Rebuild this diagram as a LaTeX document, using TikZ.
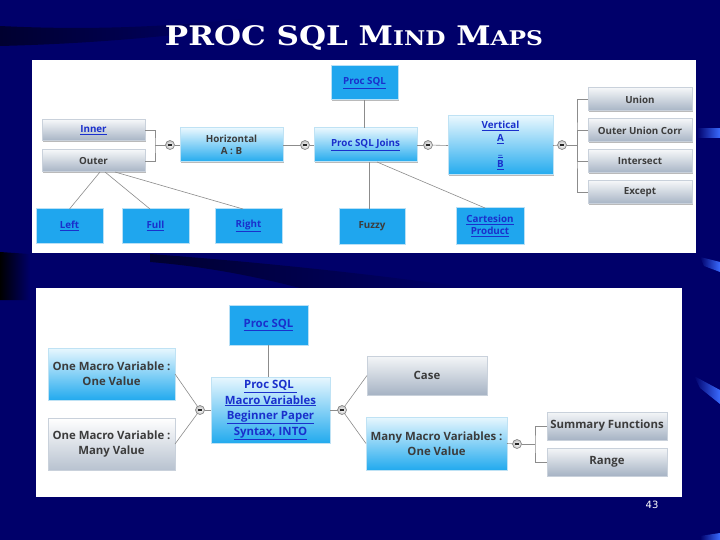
\documentclass[tikz,border=0pt]{standalone}
\usepackage{fontspec}
\usepackage{graphicx}
\usetikzlibrary{shadows,calc}
\newfontfamily\mapfont{Open Sans}
\newfontfamily\titlefont{DejaVu Serif}
\newfontfamily\numfont{DejaVu Sans}
\definecolor{navy}{HTML}{00006A}
\definecolor{navydark}{HTML}{000030}
\definecolor{streak}{HTML}{3A6BFF}
\definecolor{linkblue}{HTML}{1A30CC}
\definecolor{dtext}{HTML}{3C3C3C}
\definecolor{solblue}{HTML}{1FA6EE}
\definecolor{solborder}{HTML}{B8E0F6}
\definecolor{gbtop}{HTML}{E8F7FE}
\definecolor{gbbot}{HTML}{22AAEE}
\definecolor{gbborder}{HTML}{BFE2F4}
\definecolor{grtop}{HTML}{F4F6F8}
\definecolor{grbot}{HTML}{A6B3C4}
\definecolor{grborder}{HTML}{C9D1DB}
\definecolor{connector}{HTML}{8C8C8C}
\newcommand\mylink[1]{\textcolor{linkblue}{\underline{#1}}}
\tikzset{
  mbox/.style={rectangle, inner sep=1pt, outer sep=0pt, line width=1pt, align=center,
    text=dtext, font=\mapfont\bfseries\fontsize{9.8}{11.5}\selectfont,
    drop shadow={shadow xshift=1.2pt, shadow yshift=-1.2pt, fill=black!45, opacity=.6}},
  bigtext/.style={font=\mapfont\bfseries\fontsize{11.4}{15}\selectfont},
  sblue/.style={mbox, fill=solblue, draw=solborder},
  gblue/.style={mbox, top color=gbtop, bottom color=gbbot, draw=gbborder},
  grbox/.style={mbox, top color=grtop, bottom color=grbot, draw=grborder},
  mc/.style={circle, minimum size=9pt, inner sep=0pt, outer sep=0pt, draw=black!55, line width=0.5pt,
    inner color=white, outer color=black!25,
    path picture={\draw[line width=1.3pt, black!85] ([xshift=-2pt]path picture bounding box.center) -- ([xshift=2pt]path picture bounding box.center);}},
  conn/.style={draw=connector, line width=0.6pt},
  panel/.style={fill=white}
}
\begin{document}
\begin{tikzpicture}[x=1pt,y=-1pt]
\useasboundingbox (0,0) rectangle (720,540);
% background
\fill[navy] (0,0) rectangle (720,540);
\shade[left color=navydark, right color=navy] (0,26) .. controls (80,30) and (160,28) .. (250,18) -- (250,26) .. controls (160,38) and (80,44) .. (0,46) -- cycle;
\shade[left color=black, right color=navy] (0,252) -- (30,254) -- (30,300) -- (0,300) -- cycle;
\shade[left color=navydark, right color=navy] (150,254) .. controls (260,262) and (380,275) .. (470,288) -- (300,288) .. controls (250,275) and (200,266) .. (150,262) -- cycle;
\shade[left color=navy, right color=streak] (697,129) rectangle (720,138);
\shade[left color=navy, right color=streak] (700,257) -- (720,262) -- (720,272) -- (704,266) -- cycle;
\shade[left color=navy, right color=streak] (694,376) -- (720,390) -- (720,404) -- (700,388) -- cycle;
\shade[left color=navy, right color=streak] (700,536) -- (720,533) -- (720,540) -- (700,540) -- cycle;
% title
\node[text=white, inner sep=0pt] (title) at (354,38) {\resizebox{378pt}{20pt}{\titlefont\bfseries\fontsize{20}{20}\selectfont PROC SQL M{\fontsize{15}{15}\selectfont IND} M{\fontsize{15}{15}\selectfont APS}}};
% panels
\fill[panel] (32,60) rectangle (696,253);
\fill[panel] (36,288) rectangle (682,497);

% ---------- top map ----------
\node[sblue, minimum width=67pt, minimum height=34pt] (psql) at (364.5,83) {\mylink{Proc SQL}};
\node[grbox, minimum width=103pt, minimum height=21pt] (inner) at (93.5,130.5) {\mylink{Inner}};
\node[grbox, minimum width=103pt, minimum height=22pt] (outer) at (93.5,161) {Outer};
\node[gblue, minimum width=103pt, minimum height=34pt] (horiz) at (231.5,145) {Horizontal\\A : B};
\node[gblue, minimum width=103pt, minimum height=34pt] (joins) at (365.5,145) {\mylink{Proc SQL Joins}};
\node[gblue, minimum width=105pt, minimum height=59pt, font=\mapfont\bfseries\fontsize{9.8}{13}\selectfont] (vert) at (500.5,145.5) {\mylink{Vertical}\\\mylink{A}\\\mylink{\_}\\\mylink{B}};
\node[grbox, minimum width=104pt, minimum height=23pt] (union) at (640,99.5) {Union};
\node[grbox, minimum width=104pt, minimum height=23pt] (ouc) at (640,130.5) {Outer Union Corr};
\node[grbox, minimum width=104pt, minimum height=23pt] (inter) at (640,161.5) {Intersect};
\node[grbox, minimum width=104pt, minimum height=23pt] (except) at (640,192.5) {Except};
\node[sblue, minimum width=67pt, minimum height=34pt] (left) at (69.5,226) {\mylink{Left}};
\node[sblue, minimum width=67pt, minimum height=34pt] (full) at (155.5,226) {\mylink{Full}};
\node[sblue, minimum width=67pt, minimum height=34pt] (right) at (248.5,226) {\mylink{Right}};
\node[sblue, minimum width=66pt, minimum height=35pt] (fuzzy) at (372,226.5) {Fuzzy};
\node[sblue, minimum width=68pt, minimum height=36pt] (cart) at (490,226) {\mylink{Cartesion}\\\mylink{Product}};

\node[mc] (c1) at (170,145) {};
\node[mc] (c2) at (305,145) {};
\node[mc] (c3) at (428,145) {};
\node[mc] (c4) at (562,145) {};
\coordinate (bl) at (155,145);
\coordinate (br) at (577,145);

\draw[conn] (inner.east) -| (bl) |- (outer.east);
\draw[conn] (bl) -- (c1);
\draw[conn] (c1) -- (horiz.west);
\draw[conn] (horiz.east) -- (c2);
\draw[conn] (c2) -- (joins.west);
\draw[conn] (joins.east) -- (c3);
\draw[conn] (c3) -- (vert.west);
\draw[conn] (vert.east) -- (c4);
\draw[conn] (c4) -- (br);
\draw[conn] (union.west) -| (br) |- (except.west);
\draw[conn] (ouc.west) -| (br);
\draw[conn] (inter.west) -| (br);
\draw[conn] (psql.south) -- (psql.south |- joins.north);
\draw[conn] ($(joins.south)+(3.5,0)$) -- ($(fuzzy.north)+(-3,0)$);
\draw[conn] ($(joins.south)+(11.5,0)$) -- ($(cart.north)+(-5,0)$);
\draw[conn] ($(outer.south)+(6.5,0)$) -- (left.north);
\draw[conn] ($(outer.south)+(11.5,0)$) -- ($(full.north)+(-5.5,0)$);
\draw[conn] ($(outer.south)+(21.5,0)$) -- ($(right.north)+(-5.5,0)$);

% ---------- bottom map ----------
\node[sblue, bigtext, minimum width=79pt, minimum height=40pt] (bpsql) at (268.5,325) {\mylink{Proc SQL}};
\node[gblue, bigtext, minimum width=127pt, minimum height=52pt] (omv1) at (111.5,374) {One Macro Variable :\\One Value};
\node[grbox, bigtext, minimum width=127pt, minimum height=52pt, top color=white, bottom color=grbot!80] (omv2) at (111.5,444) {One Macro Variable :\\Many Value};
\node[gblue, bigtext, minimum width=119pt, minimum height=66pt, font=\mapfont\bfseries\fontsize{11.4}{15.5}\selectfont] (center) at (270.5,410) {\mylink{Proc SQL }\\\mylink{Macro Variables}\\\mylink{Beginner Paper}\\\mylink{Syntax, INTO}};
\node[grbox, bigtext, minimum width=120pt, minimum height=39pt] (case) at (427,375.5) {Case};
\node[gblue, bigtext, minimum width=141pt, minimum height=53pt] (mmv) at (436.5,443.5) {Many Macro Variables :\\One Value};
\node[grbox, bigtext, minimum width=120pt, minimum height=28pt] (summ) at (607,426) {Summary Functions};
\node[grbox, bigtext, minimum width=120pt, minimum height=28pt] (range) at (607,462) {Range};

\node[mc] (c5) at (200,410) {};
\node[mc] (c6) at (342,410) {};
\node[mc] (c7) at (517,444) {};
\coordinate (bb) at (535,444);

\draw[conn] (bpsql.south) -- (bpsql.south |- center.north);
\draw[conn] (omv1.east) -- (c5);
\draw[conn] (omv2.east) -- (c5);
\draw[conn] (c5) -- (center.west);
\draw[conn] (center.east) -- (c6);
\draw[conn] (c6) -- (case.west);
\draw[conn] (c6) -- (mmv.west);
\draw[conn] (mmv.east) -- (c7);
\draw[conn] (c7) -- (bb);
\draw[conn] (summ.west) -| (bb) |- (range.west);

\node[text=white, inner sep=0pt, font=\numfont\fontsize{10}{10}\selectfont] (pagenum) at (652,505) {43};
\end{tikzpicture}
\end{document}
